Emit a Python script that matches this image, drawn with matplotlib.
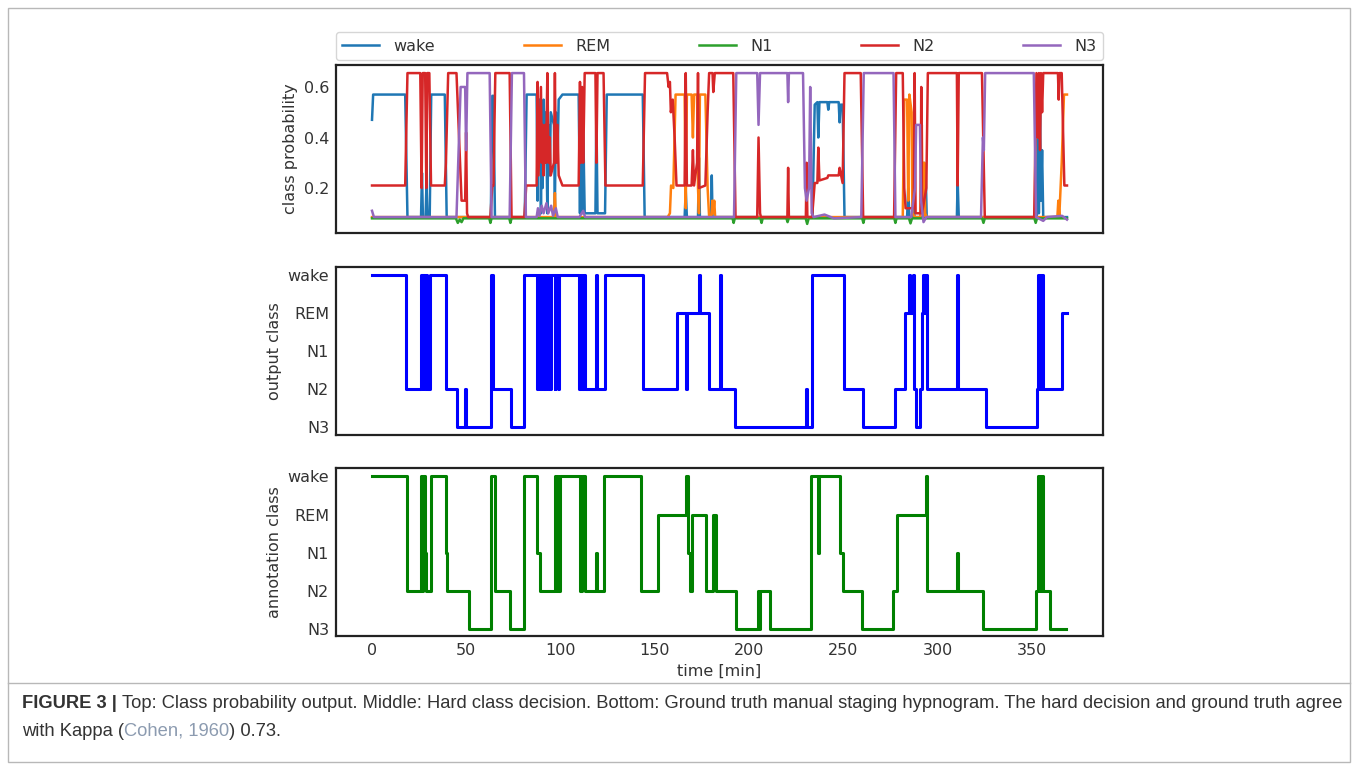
import matplotlib
matplotlib.use('Agg')
import matplotlib.pyplot as plt
from matplotlib.lines import Line2D
from matplotlib.patches import Rectangle

classes = ['wake', 'REM', 'N1', 'N2', 'N3']
stage_order = ['N3', 'N2', 'N1', 'REM', 'wake']
x_ticks = [0, 50, 100, 150, 200, 250, 300, 350]
prob_ticks = [0.2, 0.4, 0.6]

# class probability breakpoints (time [min], probability)
prob_wake = [
    (0, 0.47), (0.6, 0.57), (17.6, 0.57), (18.8, 0.085),
    (26.0, 0.085), (26.5, 0.26), (27.0, 0.085), (28.4, 0.085), (28.9, 0.22), (29.4, 0.085),
    (30.6, 0.085), (31.4, 0.57), (38.6, 0.57), (39.6, 0.085),
    (63.0, 0.085), (63.8, 0.565), (64.4, 0.565), (65.2, 0.085),
    (81.0, 0.085), (82.0, 0.57), (87.3, 0.57), (87.8, 0.15), (88.3, 0.55), (89.2, 0.55),
    (89.6, 0.1), (90.0, 0.5), (90.5, 0.2), (91.0, 0.55), (91.8, 0.3), (92.3, 0.5), (93.0, 0.1),
    (93.6, 0.45), (94.3, 0.25), (94.8, 0.5), (96.5, 0.45), (97.0, 0.12), (97.5, 0.5),
    (98.4, 0.3), (99.0, 0.55), (101.0, 0.57),
    (109.6, 0.57), (110.3, 0.1), (110.8, 0.5), (111.4, 0.1), (112.0, 0.45), (112.8, 0.1),
    (118.5, 0.1), (119.0, 0.5), (119.6, 0.1), (123.6, 0.1), (124.5, 0.57), (143.6, 0.57),
    (144.6, 0.085),
    (165.8, 0.085), (166.4, 0.19), (167.0, 0.085), (172.9, 0.085), (173.4, 0.32), (173.9, 0.085),
    (179.8, 0.085), (180.2, 0.25), (180.6, 0.085),
    (233.6, 0.085), (234.8, 0.53), (236.2, 0.54), (236.7, 0.4), (237.3, 0.54), (241.5, 0.54),
    (242.0, 0.51), (242.5, 0.54), (247.5, 0.54), (248.0, 0.46), (248.5, 0.53), (249.6, 0.53),
    (250.6, 0.085),
    (283.8, 0.085), (284.4, 0.2), (285.0, 0.085), (286.8, 0.085), (287.2, 0.25), (287.7, 0.085),
    (292.2, 0.085), (292.6, 0.3), (293.2, 0.12), (293.6, 0.28), (294.2, 0.085),
    (310.2, 0.085), (310.6, 0.23), (311.2, 0.085),
    (352.6, 0.085), (353.2, 0.45), (353.7, 0.1), (354.3, 0.5), (354.8, 0.15), (355.4, 0.35),
    (356.0, 0.085), (368.6, 0.085)]

prob_rem = [
    (0, 0.085), (96.5, 0.085), (97.0, 0.18), (97.5, 0.085),
    (156.8, 0.085), (158.0, 0.1), (158.6, 0.21), (159.8, 0.2), (161.0, 0.57), (165.8, 0.57),
    (166.4, 0.12), (167.0, 0.57), (169.5, 0.57), (170.2, 0.4), (170.8, 0.57), (172.4, 0.57),
    (172.9, 0.2), (173.4, 0.1), (173.9, 0.57), (176.8, 0.57), (178.0, 0.2), (178.8, 0.085),
    (180.0, 0.085), (180.5, 0.15), (181.0, 0.1), (181.5, 0.15), (182.0, 0.085),
    (281.5, 0.085), (282.3, 0.55), (283.8, 0.55), (284.4, 0.15), (285.0, 0.57), (286.2, 0.5),
    (286.6, 0.1), (288.0, 0.085), (290.8, 0.085), (291.6, 0.45), (292.0, 0.15), (292.6, 0.085),
    (293.0, 0.3), (293.4, 0.1), (294.2, 0.085),
    (363.5, 0.085), (364.0, 0.15), (364.5, 0.085), (365.8, 0.3), (367.0, 0.57), (368.6, 0.57)]

prob_n1 = [
    (0, 0.08), (44.5, 0.08), (45.5, 0.062), (46.5, 0.075), (47.5, 0.065), (48.5, 0.08),
    (62.2, 0.08), (62.8, 0.062), (63.4, 0.08), (72.8, 0.08), (73.4, 0.062), (74.0, 0.08),
    (191.2, 0.08), (191.8, 0.062), (192.4, 0.08), (206.0, 0.08), (206.6, 0.062), (207.2, 0.08),
    (219.8, 0.08), (220.4, 0.065), (221.0, 0.08), (230.0, 0.08), (230.8, 0.058), (231.6, 0.08),
    (260.0, 0.08), (260.6, 0.062), (261.2, 0.08), (277.0, 0.08), (277.6, 0.062), (278.2, 0.08),
    (284.8, 0.08), (285.6, 0.06), (286.4, 0.08), (323.6, 0.08), (324.3, 0.062), (325.0, 0.08),
    (351.3, 0.08), (352.0, 0.062), (352.7, 0.08), (368.6, 0.08)]

prob_n2 = [
    (0, 0.21), (17.6, 0.21), (18.8, 0.655), (25.6, 0.655), (26.3, 0.2), (26.9, 0.655),
    (28.2, 0.655), (28.8, 0.2), (29.3, 0.655), (30.4, 0.655), (31.3, 0.21), (38.6, 0.21),
    (39.2, 0.3), (40.4, 0.655), (44.8, 0.655), (47.5, 0.15), (49.4, 0.15), (49.9, 0.42),
    (50.4, 0.1), (51.0, 0.085),
    (62.8, 0.085), (63.8, 0.21), (64.4, 0.21), (65.4, 0.655), (73.0, 0.655), (74.0, 0.085),
    (80.8, 0.085), (81.8, 0.21), (87.3, 0.21), (87.8, 0.62), (88.3, 0.25), (89.6, 0.6),
    (90.0, 0.3), (90.5, 0.45), (91.0, 0.25), (91.8, 0.45), (92.3, 0.3), (93.0, 0.655),
    (93.6, 0.3), (94.3, 0.4), (94.8, 0.25), (96.5, 0.3), (97.0, 0.655), (97.5, 0.3),
    (98.4, 0.45), (99.0, 0.25), (101.0, 0.21),
    (109.6, 0.21), (110.3, 0.62), (110.8, 0.3), (111.4, 0.6), (112.0, 0.3), (112.8, 0.655),
    (118.5, 0.655), (119.0, 0.3), (119.6, 0.655), (122.8, 0.655), (123.8, 0.21), (143.6, 0.21),
    (144.8, 0.655), (156.5, 0.655), (157.3, 0.6), (158.0, 0.62), (158.5, 0.5), (159.5, 0.55),
    (160.5, 0.4), (161.5, 0.21),
    (165.8, 0.21), (166.4, 0.655), (167.0, 0.21), (169.5, 0.21), (170.2, 0.35), (170.8, 0.21),
    (172.4, 0.3), (172.9, 0.655), (173.4, 0.2), (176.8, 0.21), (178.0, 0.5), (178.8, 0.655),
    (180.6, 0.655), (181.0, 0.58), (181.8, 0.655), (191.6, 0.655), (192.8, 0.085),
    (204.3, 0.085), (205.0, 0.4), (205.8, 0.1), (206.3, 0.085), (220.3, 0.085), (220.7, 0.28),
    (221.1, 0.085), (230.1, 0.085), (230.5, 0.3), (230.9, 0.085), (233.4, 0.085), (234.8, 0.22),
    (236.2, 0.22), (236.7, 0.36), (237.3, 0.23), (241.5, 0.24), (242.0, 0.25), (247.5, 0.25),
    (248.0, 0.28), (249.6, 0.22), (250.6, 0.655), (259.2, 0.655), (260.5, 0.085),
    (276.9, 0.085), (278.0, 0.655), (281.5, 0.655), (282.3, 0.2), (283.0, 0.12), (287.3, 0.12),
    (287.8, 0.655), (288.3, 0.1), (291.0, 0.1), (291.3, 0.6), (291.7, 0.1), (294.0, 0.2),
    (294.8, 0.655), (310.2, 0.655), (310.6, 0.21), (311.2, 0.655), (323.5, 0.655), (325.0, 0.085),
    (351.2, 0.085), (352.4, 0.655), (353.2, 0.4), (353.7, 0.655), (354.3, 0.35), (354.8, 0.655),
    (355.4, 0.5), (356.0, 0.655), (363.8, 0.655), (364.2, 0.55), (364.6, 0.655), (365.8, 0.655),
    (367.2, 0.21), (368.6, 0.21)]

prob_n3 = [
    (0, 0.11), (1.0, 0.085), (44.8, 0.085), (47.0, 0.6), (49.4, 0.6), (49.9, 0.35),
    (50.6, 0.655), (62.4, 0.655), (63.4, 0.085), (73.0, 0.085), (74.2, 0.655), (80.6, 0.655),
    (81.6, 0.085),
    (87.3, 0.085), (88.0, 0.12), (88.8, 0.09), (90.0, 0.13), (91.0, 0.1), (92.5, 0.14),
    (93.5, 0.1), (95.0, 0.13), (96.0, 0.09), (97.5, 0.12), (98.5, 0.085),
    (110.0, 0.085), (112.0, 0.11), (113.0, 0.085), (192.0, 0.085), (193.2, 0.655),
    (204.3, 0.655), (205.0, 0.45), (205.8, 0.655), (220.3, 0.655), (220.7, 0.54), (221.1, 0.655),
    (228.6, 0.655), (229.6, 0.2), (230.5, 0.15), (231.8, 0.2), (232.4, 0.6), (233.2, 0.1),
    (234.2, 0.085), (240.0, 0.095), (245.0, 0.08), (259.5, 0.085), (260.8, 0.655),
    (276.6, 0.655), (277.6, 0.085),
    (286.0, 0.085), (288.0, 0.2), (288.6, 0.45), (290.6, 0.45), (291.2, 0.15), (292.5, 0.065),
    (294.0, 0.085),
    (323.0, 0.085), (324.0, 0.4), (324.5, 0.35), (325.2, 0.655), (351.0, 0.655), (352.2, 0.085),
    (356.0, 0.07), (358.0, 0.085), (366.0, 0.09), (368.6, 0.075)]

# hard class decision: (start time [min], class)
output_class = [
    (0, 'wake'), (18.0, 'N2'), (25.8, 'wake'), (26.8, 'N2'), (27.2, 'wake'), (28.0, 'N2'),
    (28.4, 'wake'), (29.2, 'N2'), (31.0, 'wake'), (39.2, 'N2'), (44.9, 'N3'), (49.3, 'N2'),
    (50.0, 'N3'), (63.0, 'wake'), (64.3, 'N2'), (73.5, 'N3'), (80.8, 'wake'),
    (87.5, 'N2'), (88.0, 'wake'), (89.3, 'N2'), (89.8, 'wake'), (90.6, 'N2'), (91.0, 'wake'),
    (92.0, 'N2'), (92.5, 'wake'), (93.3, 'N2'), (93.8, 'wake'), (94.6, 'N2'), (95.0, 'wake'),
    (96.8, 'N2'), (97.3, 'wake'), (98.6, 'N2'), (99.4, 'wake'),
    (110.0, 'N2'), (110.6, 'wake'), (111.3, 'N2'), (112.4, 'wake'), (113.2, 'N2'),
    (118.8, 'wake'), (119.5, 'N2'), (123.4, 'wake'), (143.8, 'N2'), (161.5, 'REM'),
    (166.5, 'N2'), (167.1, 'REM'), (173.2, 'wake'), (173.8, 'REM'), (178.8, 'N2'),
    (184.3, 'wake'), (184.9, 'N2'), (192.5, 'N3'), (230.3, 'N2'), (230.9, 'N3'),
    (233.5, 'wake'), (250.1, 'N2'), (260.5, 'N3'), (277.3, 'N2'), (282.6, 'REM'),
    (284.6, 'wake'), (285.2, 'REM'), (287.0, 'wake'), (287.6, 'N2'), (288.5, 'N3'),
    (290.6, 'N2'), (291.6, 'REM'), (292.4, 'wake'), (293.0, 'REM'), (293.6, 'wake'),
    (294.3, 'N2'), (310.3, 'wake'), (310.8, 'N2'), (325.5, 'N3'), (352.6, 'N2'),
    (353.4, 'wake'), (353.9, 'N2'), (354.4, 'wake'), (355.0, 'N2'), (355.5, 'wake'),
    (356.0, 'N2'), (366.2, 'REM'), (368.8, 'REM')]

# manual staging hypnogram: (start time [min], class)
annotation_class = [
    (0, 'wake'), (18.5, 'N2'), (25.8, 'wake'), (26.6, 'N2'), (27.1, 'wake'), (28.0, 'N1'),
    (28.6, 'N2'), (31.2, 'wake'), (39.2, 'N1'), (40.0, 'N2'), (51.2, 'N3'), (63.2, 'wake'),
    (65.0, 'N2'), (73.3, 'N3'), (80.7, 'wake'), (87.7, 'N1'), (89.2, 'N2'), (97.3, 'wake'),
    (97.8, 'N2'), (98.3, 'wake'), (98.9, 'N2'), (99.5, 'wake'), (110.3, 'N2'), (111.6, 'wake'),
    (112.8, 'N2'), (118.9, 'N1'), (119.4, 'N2'), (123.3, 'wake'), (142.9, 'N2'), (151.5, 'REM'),
    (166.6, 'wake'), (167.6, 'N1'), (168.8, 'N2'), (169.8, 'REM'), (177.4, 'N2'), (180.8, 'REM'),
    (182.6, 'N2'), (192.8, 'N3'), (204.8, 'N2'), (205.3, 'N3'), (205.8, 'N2'), (211.0, 'N3'),
    (232.8, 'wake'), (236.4, 'N1'), (237.0, 'wake'), (248.2, 'N1'), (249.6, 'N2'),
    (260.1, 'N3'), (276.2, 'N2'), (278.6, 'REM'), (293.6, 'wake'), (294.6, 'N2'),
    (310.3, 'N1'), (310.8, 'N2'), (324.0, 'N3'), (352.0, 'N2'), (353.4, 'wake'), (353.9, 'N2'),
    (354.3, 'wake'), (354.8, 'N2'), (355.6, 'wake'), (356.1, 'N2'), (359.8, 'N3'), (368.3, 'N3')]

caption_head = 'FIGURE 3 | '
caption_1 = ('Top: Class probability output. Middle: Hard class decision. Bottom: Ground truth '
             'manual staging hypnogram. The hard decision and ground truth agree')


def unzip(pairs):
    return [p[0] for p in pairs], [p[1] for p in pairs]


def stage_line(pairs):
    t, s = unzip(pairs)
    return t, [stage_order.index(x) for x in s]


def style_axes(ax):
    for sp in ax.spines.values():
        sp.set_color('#222222')
        sp.set_linewidth(1.6)
    ax.tick_params(length=0, pad=5, labelsize=11.5, colors='#333333')
    ax.set_xlim(-19.1, 387.7)
    ax.set_xticks(x_ticks)


fig = plt.figure(figsize=(13.58, 7.70), dpi=100)
W, H = 1358.0, 770.0

ax1 = fig.add_axes([336 / W, 1 - 233 / H, 767 / W, 168 / H])
ax2 = fig.add_axes([336 / W, 1 - 435 / H, 767 / W, 168 / H])
ax3 = fig.add_axes([336 / W, 1 - 636 / H, 767 / W, 168 / H])

probs = [prob_wake, prob_rem, prob_n1, prob_n2, prob_n3]
for i, (name, pts) in enumerate(zip(classes, probs)):
    t, p = unzip(pts)
    ax1.plot(t, p, color='C%d' % i, lw=1.8, label=name)
style_axes(ax1)
ax1.set_ylim(0.022, 0.687)
ax1.set_yticks(prob_ticks)
ax1.set_yticklabels(['0.2', '0.4', '0.6'])
ax1.tick_params(labelbottom=False)
ax1.set_ylabel('class probability', fontsize=11.5, color='#333333')
leg = ax1.legend(loc='lower left', bbox_to_anchor=(0, 1.03, 1, 0.2), mode='expand',
                 ncol=5, borderaxespad=0, fontsize=11.5, handlelength=2.3,
                 handletextpad=0.9, frameon=True)
leg.get_frame().set_edgecolor('#cccccc')
for txt in leg.get_texts():
    txt.set_color('#333333')

t, y = stage_line(output_class)
ax2.plot(t, y, color='b', lw=2.2, drawstyle='steps-post')
style_axes(ax2)
ax2.set_ylim(-0.22, 4.22)
ax2.set_yticks(range(5))
ax2.set_yticklabels(stage_order)
ax2.tick_params(labelbottom=False)
ax2.set_ylabel('output class', fontsize=11.5, color='#333333')

t, y = stage_line(annotation_class)
ax3.plot(t, y, color='g', lw=2.2, drawstyle='steps-post')
style_axes(ax3)
ax3.set_ylim(-0.18, 4.22)
ax3.set_yticks(range(5))
ax3.set_yticklabels(stage_order)
ax3.set_ylabel('annotation class', fontsize=11.5, color='#333333')
ax3.set_xlabel('time [min]', fontsize=11.5, color='#333333')

# page frame and caption
fig.add_artist(Rectangle((8 / W, 1 - 762 / H), 1342 / W, 754 / H, transform=fig.transFigure,
                         fill=False, edgecolor='#b8b8b8', lw=1.0))
fig.add_artist(Line2D([8 / W, 1350 / W], [1 - 683 / H, 1 - 683 / H], transform=fig.transFigure,
                      color='#b8b8b8', lw=1.0))

cap = dict(fontsize=13.2, family='Liberation Sans', color='#333333', va='baseline')
r = fig.canvas.get_renderer()
y1 = 1 - 708 / H
y2 = 1 - 736 / H
t1 = fig.text(22 / W, y1, caption_head, fontweight='bold', **cap)
x = t1.get_window_extent(renderer=r).x1 / W
fig.text(x, y1, caption_1, **cap)
t2 = fig.text(22 / W, y2, 'with Kappa (', **cap)
x = t2.get_window_extent(renderer=r).x1 / W
t3 = fig.text(x, y2, 'Cohen, 1960', **dict(cap, color='#8c9bb0'))
x = t3.get_window_extent(renderer=r).x1 / W
fig.text(x, y2, ') 0.73.', **cap)

fig.savefig('out.png', dpi=100)
